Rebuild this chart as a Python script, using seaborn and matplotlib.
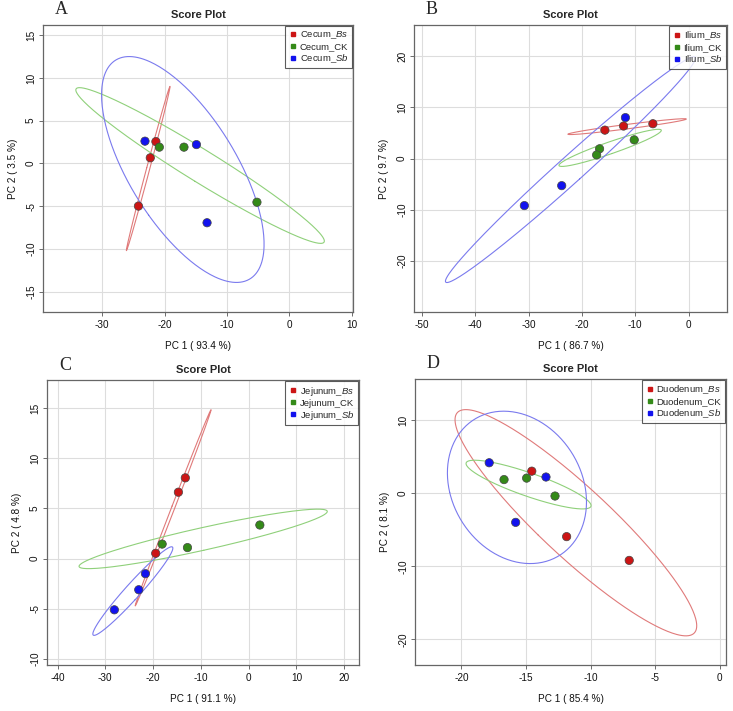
import numpy as np
import pandas as pd
import matplotlib
matplotlib.use("Agg")
import matplotlib.pyplot as plt
import seaborn as sns

# 그룹 / 색
groups = ["Bs", "CK", "Sb"]
point_colors = {"Bs": "#CC1515", "CK": "#348A18", "Sb": "#1212EE"}
ellipse_colors = {"Bs": "#E07A7A", "CK": "#8FD07A", "Sb": "#7A7AEE"}

# 패널별 점수 (PC1, PC2) - 그림에서 읽은 값
cecum_pc1 = {"Bs": [-21.4, -22.3, -24.2], "CK": [-20.85, -16.9, -5.2], "Sb": [-23.15, -14.9, -13.2]}
cecum_pc2 = {"Bs": [2.55, 0.65, -5.0], "CK": [1.9, 1.9, -4.55], "Sb": [2.6, 2.2, -6.95]}

ilium_pc1 = {"Bs": [-15.7, -12.2, -6.7], "CK": [-16.7, -17.25, -10.2], "Sb": [-11.85, -23.8, -30.8]}
ilium_pc2 = {"Bs": [5.55, 6.35, 6.8], "CK": [1.9, 0.7, 3.65], "Sb": [8.0, -5.3, -9.2]}

jejunum_pc1 = {"Bs": [-13.25, -14.7, -19.45], "CK": [-18.1, -12.8, 2.35], "Sb": [-21.6, -23.0, -28.1]}
jejunum_pc2 = {"Bs": [8.05, 6.62, 0.53], "CK": [1.45, 1.1, 3.35], "Sb": [-1.5, -3.1, -5.1]}

duodenum_pc1 = {"Bs": [-14.55, -11.85, -7.0], "CK": [-16.7, -14.95, -12.75], "Sb": [-17.85, -13.45, -15.8]}
duodenum_pc2 = {"Bs": [3.0, -5.95, -9.2], "CK": [1.85, 2.05, -0.4], "Sb": [4.15, 2.2, -4.0]}

panels = [
    ("A", "Cecum", cecum_pc1, cecum_pc2, "PC 1 ( 93.4 %)", "PC 2 ( 3.5 %)",
     (-39.5, 10.2), (-17.4, 16.2), [-30, -20, -10, 0, 10], [-15, -10, -5, 0, 5, 10, 15]),
    ("B", "Ilium", ilium_pc1, ilium_pc2, "PC 1 ( 86.7 %)", "PC 2 ( 9.7 %)",
     (-51.5, 7.2), (-30.0, 26.1), [-50, -40, -30, -20, -10, 0], [-20, -10, 0, 10, 20]),
    ("C", "Jejunum", jejunum_pc1, jejunum_pc2, "PC 1 ( 91.1 %)", "PC 2 ( 4.8 %)",
     (-42.2, 23.1), (-10.6, 17.8), [-40, -30, -20, -10, 0, 10, 20], [-10, -5, 0, 5, 10, 15]),
    ("D", "Duodenum", duodenum_pc1, duodenum_pc2, "PC 1 ( 85.4 %)", "PC 2 ( 8.1 %)",
     (-23.6, 0.5), (-23.5, 15.6), [-20, -15, -10, -5, 0], [-20, -10, 0, 10]),
]

# 축 위치 (픽셀 -> figure 비율)
W, H = 733, 711
boxes = [(43, 25, 353, 312), (414, 25, 727, 312), (47, 380, 359, 665), (415, 379, 726, 665)]

sns.set_theme(style="white")
plt.rcParams["font.family"] = ["Liberation Sans", "DejaVu Sans"]
plt.rcParams["mathtext.fontset"] = "custom"
plt.rcParams["mathtext.it"] = "Liberation Sans:italic"
plt.rcParams["mathtext.rm"] = "Liberation Sans"
plt.rcParams["axes.unicode_minus"] = False

fig = plt.figure(figsize=(W / 100, H / 100), dpi=100)

# 95% 신뢰 타원 (chi2, df=2)
t_scale = np.sqrt(-2 * np.log(0.05))
theta = np.linspace(0, 2 * np.pi, 300)


def conf_ellipse(x, y):
    x = np.asarray(x); y = np.asarray(y)
    cov = np.cov(x, y)
    vals, vecs = np.linalg.eigh(cov)
    vals = np.clip(vals, 0, None)
    circ = np.vstack([np.cos(theta), np.sin(theta)])
    pts = vecs @ (np.sqrt(vals)[:, None] * circ) * t_scale
    return x.mean() + pts[0], y.mean() + pts[1]


for (letter, tissue, pc1, pc2, xlab, ylab, xlim, ylim, xt, yt), (x0, y0, x1, y1) in zip(panels, boxes):
    ax = fig.add_axes([x0 / W, 1 - y1 / H, (x1 - x0) / W, (y1 - y0) / H])

    rows = []
    for g in groups:
        for a, b in zip(pc1[g], pc2[g]):
            rows.append({"PC1": a, "PC2": b, "group": g})
    df = pd.DataFrame(rows)

    ax.set_xlim(*xlim)
    ax.set_ylim(*ylim)
    ax.set_xticks(xt)
    ax.set_yticks(yt)
    ax.grid(True, color="#DDDDDD", linewidth=0.8)
    ax.set_axisbelow(True)

    for g in groups:
        ex, ey = conf_ellipse(pc1[g], pc2[g])
        ax.plot(ex, ey, color=ellipse_colors[g], linewidth=0.8, zorder=2)

    sns.scatterplot(data=df, x="PC1", y="PC2", hue="group", palette=point_colors,
                    hue_order=groups, s=36, edgecolor="#444444", linewidth=0.5,
                    legend=False, ax=ax, zorder=3)

    # 범례
    handles = [plt.Line2D([], [], marker="s", linestyle="", markersize=3.5,
                          color=point_colors[g]) for g in groups]
    labels = [tissue + r"_$\mathit{Bs}$", tissue + "_CK", tissue + r"_$\mathit{Sb}$"]
    leg = ax.legend(handles, labels, loc="upper right", fontsize=6.8, frameon=True,
                    fancybox=False, borderaxespad=0.15, handletextpad=0.2,
                    handlelength=1.0, labelspacing=0.1, borderpad=0.35)
    leg.get_frame().set_edgecolor("#333333")
    leg.get_frame().set_linewidth(0.8)

    for sp in ax.spines.values():
        sp.set_color("#666666")
        sp.set_linewidth(0.9)
    ax.tick_params(axis="both", which="both", direction="out", length=3, width=0.6,
                   color="#555555", labelsize=7.2, labelcolor="#111111", pad=3,
                   bottom=True, left=True)
    ax.tick_params(axis="y", pad=2)
    for lab in ax.get_yticklabels():
        lab.set_rotation(90)
        lab.set_va("center")
    ax.set_xlabel(xlab, fontsize=7.2, labelpad=8, color="#111111")
    ax.set_ylabel(ylab, fontsize=7.2, labelpad=6, color="#111111")
    ax.set_title("Score Plot", fontsize=8, fontweight="bold", pad=5)

    fig.text((x0 + 18) / W, 1 - (y0 - 15) / H, letter, fontsize=13,
             family="Liberation Serif", ha="center", va="center")

fig.savefig("out.png", dpi=100)
